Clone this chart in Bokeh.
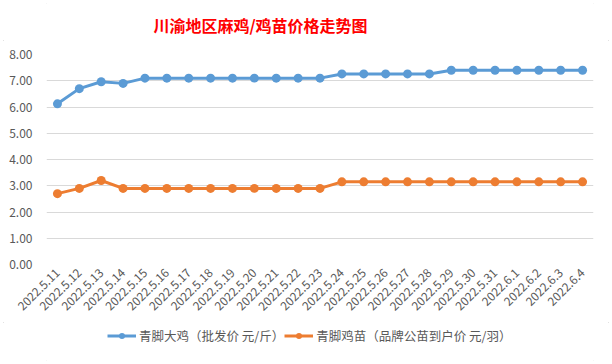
from math import pi
from bokeh.plotting import figure
from bokeh.layouts import column
from bokeh.models import (Range1d, FactorRange, SingleIntervalTicker, NumeralTickFormatter,
                          Legend, LegendItem, ColumnDataSource, Label)
from bokeh.embed import file_html
from bokeh.resources import INLINE

dates = ["2022.5.11", "2022.5.12", "2022.5.13", "2022.5.14", "2022.5.15", "2022.5.16",
         "2022.5.17", "2022.5.18", "2022.5.19", "2022.5.20", "2022.5.21", "2022.5.22",
         "2022.5.23", "2022.5.24", "2022.5.25", "2022.5.26", "2022.5.27", "2022.5.28",
         "2022.5.29", "2022.5.30", "2022.5.31", "2022.6.1", "2022.6.2", "2022.6.3", "2022.6.4"]
chicken = [6.12, 6.7, 6.96, 6.9, 7.1, 7.1, 7.1, 7.1, 7.1, 7.1, 7.1, 7.1, 7.1,
           7.26, 7.26, 7.26, 7.26, 7.26, 7.4, 7.4, 7.4, 7.4, 7.4, 7.4, 7.4]
chick = [2.7, 2.9, 3.2, 2.9, 2.9, 2.9, 2.9, 2.9, 2.9, 2.9, 2.9, 2.9, 2.9,
         3.15, 3.15, 3.15, 3.15, 3.15, 3.15, 3.15, 3.15, 3.15, 3.15, 3.15, 3.15]
name1 = "青脚大鸡（批发价 元/斤）"
name2 = "青脚鸡苗（品牌公苗到户价 元/羽）"
title = "川渝地区麻鸡/鸡苗价格走势图"
y_ticks = [0, 8]

src = ColumnDataSource(dict(d=dates, a=chicken, b=chick))

FONT = "Noto Sans CJK SC"
GRAY = "#595959"
BLUE = "#5B9BD5"
ORANGE = "#ED7D31"


def strip(h):
    f = figure(width=612, height=h, x_range=Range1d(0, 1), y_range=Range1d(0, 1),
               output_backend="svg", toolbar_location=None,
               x_axis_location=None, y_axis_location=None,
               min_border_left=0, min_border_right=0, min_border_top=0, min_border_bottom=0)
    f.outline_line_color = None
    f.grid.grid_line_color = None
    f.border_fill_color = "white"
    f.background_fill_color = "white"
    return f


# title strip
t = strip(40)
t.add_layout(Label(x=214, y=16, x_units="screen", y_units="screen", text=title,
                   text_align="center", text_baseline="middle", text_color="#FF0000",
                   text_font=FONT, text_font_size="16px", text_font_style="bold"))

# main chart
p = figure(width=612, height=282, x_range=FactorRange(factors=dates),
           y_range=Range1d(y_ticks[0], y_ticks[1]), output_backend="svg",
           toolbar_location=None, min_border_left=46, min_border_right=19,
           min_border_top=14, min_border_bottom=58)
p.outline_line_color = None
p.background_fill_color = "white"
p.border_fill_color = "white"

p.xgrid.grid_line_color = None
p.ygrid.grid_line_color = "#D9D9D9"
p.ygrid.grid_line_width = 1

p.yaxis.ticker = SingleIntervalTicker(interval=1)
p.yaxis.formatter = NumeralTickFormatter(format="0.00")
for ax in (p.xaxis, p.yaxis):
    ax.axis_line_color = None
    ax.major_tick_line_color = None
    ax.minor_tick_line_color = None
    ax.major_tick_out = 0
    ax.major_label_text_color = GRAY
    ax.major_label_text_font = FONT
    ax.major_label_text_font_size = "12px"
p.yaxis.major_label_standoff = 10
p.xaxis.major_label_orientation = pi / 4
p.xaxis.major_label_standoff = 6

p.line("d", "a", source=src, line_color=BLUE, line_width=3)
p.scatter("d", "a", source=src, size=9, fill_color=BLUE, line_color=None)
p.line("d", "b", source=src, line_color=ORANGE, line_width=3)
p.scatter("d", "b", source=src, size=9, fill_color=ORANGE, line_color=None)

# legend strip below the chart (sample renderers lie outside its visible range)
q = strip(42)
k1 = q.line(x=[5, 6], y=[5, 6], line_color=BLUE, line_width=3)
m1 = q.scatter(x=[5, 6], y=[5, 6], size=9, fill_color=BLUE, line_color=None)
k2 = q.line(x=[5, 6], y=[5, 6], line_color=ORANGE, line_width=3)
m2 = q.scatter(x=[5, 6], y=[5, 6], size=9, fill_color=ORANGE, line_color=None)

legend = Legend(items=[LegendItem(label=name1, renderers=[k1, m1]),
                       LegendItem(label=name2, renderers=[k2, m2])],
                orientation="horizontal", location=(61, 19))
legend.padding = 0
legend.margin = 0
legend.spacing = 0
legend.glyph_width = 29
legend.glyph_height = 15
legend.label_height = 15
legend.label_standoff = 3
legend.border_line_color = None
legend.background_fill_alpha = 0
legend.label_text_font = FONT
legend.label_text_font_size = "12.5px"
legend.label_text_color = GRAY
q.add_layout(legend, "center")

layout = column(t, p, q, spacing=0,
                styles={"outline": "1px solid #D9D9D9", "outline-offset": "-4px"})

open("out.html", "w").write(file_html(layout, INLINE))
